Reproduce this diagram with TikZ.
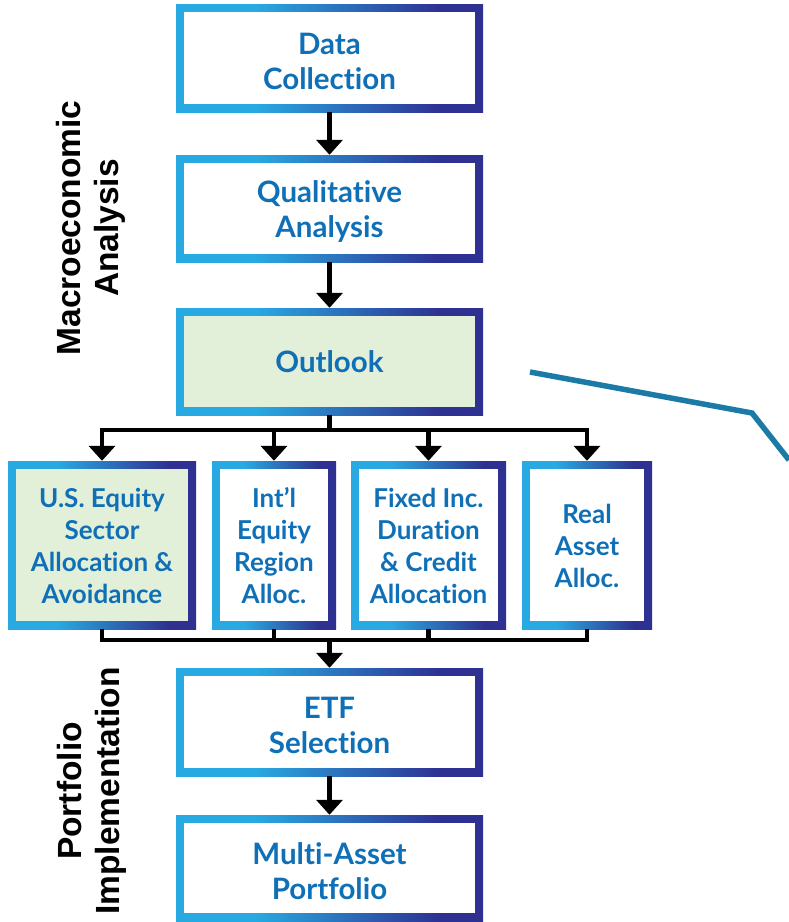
\documentclass[tikz,border=0pt]{standalone}
\usepackage{fontspec}
\setmainfont{Lato}[Ligatures=NoCommon]
\newfontfamily\sidefont{Liberation Sans}
\usetikzlibrary{arrows.meta}
\definecolor{framel}{HTML}{29A9E1}
\definecolor{framer}{HTML}{2E3192}
\definecolor{txtblue}{HTML}{0F70B7}
\definecolor{outfill}{HTML}{E2EFD9}
\definecolor{tealline}{HTML}{1B7BA6}
\pgfdeclarehorizontalshading{frameshade}{100bp}{color(0bp)=(framel); color(38bp)=(framel); color(68bp)=(framer); color(100bp)=(framer)}
\newcommand\topfont{\bfseries\fontsize{29.5}{35}\selectfont}
\newcommand\rowfont{\bfseries\fontsize{26}{32}\selectfont}
\newcommand\tpstrut{\rule{0pt}{28pt}}
\newcommand\rwstrut{\rule{0pt}{22pt}}
\tikzset{
  framebox/.style={shade, shading=frameshade, draw=none, inner sep=0pt, align=center, text=txtblue,
    path picture={\fill[#1] ([xshift=8pt,yshift=8pt]path picture bounding box.south west) rectangle ([xshift=-8pt,yshift=-8pt]path picture bounding box.north east);}},
  wbox/.style={framebox=white},
  gbox/.style={framebox=outfill},
  conn/.style={line width=4.5pt, line join=miter, black},
  arr/.style={conn, -{Triangle[width=26pt,length=15pt]}},
  sidelab/.style={rotate=90, align=center, font=\sidefont\bfseries\fontsize{33.5}{38}\selectfont, text=black},
  tealln/.style={line width=5.5pt, tealline}
}
\begin{document}
\begin{tikzpicture}[x=1pt,y=-1pt]
\useasboundingbox (0,0) rectangle (789,922);
% top column
\node[wbox, minimum width=307pt, minimum height=108pt, font=\topfont] (dc) at (329.5,58) {\tpstrut Data\\Collection};
\node[wbox, minimum width=307pt, minimum height=107pt, font=\topfont] (qa) at (329.5,208.5) {\tpstrut Qualitative\\Analysis};
\node[gbox, minimum width=307pt, minimum height=107pt, font=\topfont] (out) at (329.5,361.5) {Outlook};
% row
\node[gbox, minimum width=188pt, minimum height=168pt, font=\rowfont] (b1) at (102,545) {\rwstrut U.S. Equity\\Sector\\Allocation \&\\Avoidance};
\node[wbox, minimum width=124pt, minimum height=168pt, font=\rowfont] (b2) at (274,545) {\rwstrut Int’l\\Equity\\Region\\Alloc.};
\node[wbox, minimum width=155pt, minimum height=168pt, font=\rowfont] (b3) at (428.5,545) {\rwstrut Fixed Inc.\\Duration\\\& Credit\\Allocation};
\node[wbox, minimum width=130pt, minimum height=168pt, font=\rowfont] (b4) at (587,545) {\rwstrut Real\\Asset\\Alloc.};
% bottom column
\node[wbox, minimum width=307pt, minimum height=108pt, font=\topfont] (etf) at (329.5,722) {\tpstrut ETF\\Selection};
\node[wbox, minimum width=307pt, minimum height=106pt, font=\topfont] (map) at (329.5,868) {\tpstrut Multi-Asset\\Portfolio};
% side labels
\node[sidelab] (mac) at (91,228) {Macroeconomic\\Analysis};
\node[sidelab] (port) at (92,791) {Portfolio\\Implementation};
% connectors
\draw[arr] (dc) -- (qa);
\draw[arr] (qa) -- (out);
\coordinate (hb) at (329.5,430);
\draw[conn] (out.south) -- (hb);
\draw[arr] (hb) -| (b1.north);
\draw[arr] (hb) -| (b2.north);
\draw[arr] (hb) -| (b3.north);
\draw[arr] (hb) -| (b4.north);
\coordinate (lb) at (329.5,640);
\draw[conn] (b1.south) |- (lb);
\draw[conn] (b2.south) |- (lb);
\draw[conn] (b3.south) |- (lb);
\draw[conn] (b4.south) |- (lb);
\draw[arr] (lb) -- (etf.north);
\draw[arr] (etf) -- (map);
% teal line
\coordinate (t1) at (530,372);
\coordinate (t2) at (752,413);
\coordinate (t3) at (789,460);
\draw[tealln] (t1) -- (t2) -- (t3);
\end{tikzpicture}
\end{document}
